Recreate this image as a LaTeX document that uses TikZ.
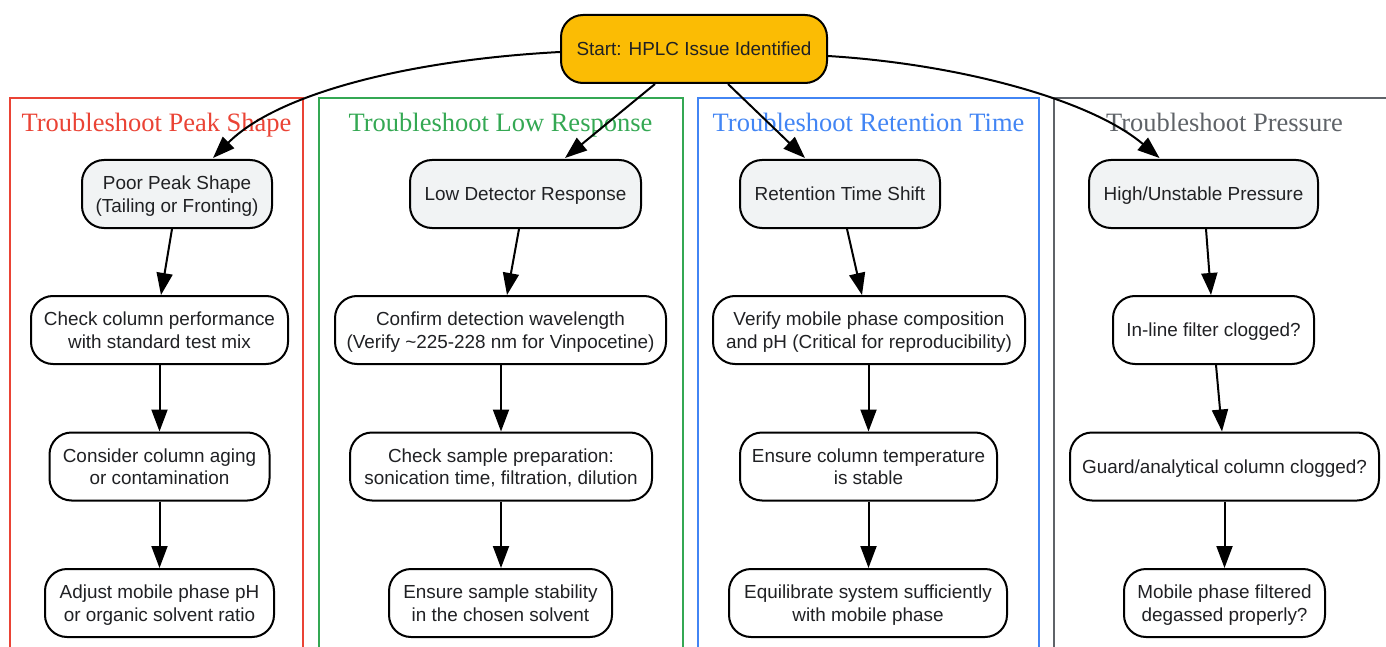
\documentclass[tikz,border=0pt]{standalone}
\usepackage{fontspec}
\setmainfont{Liberation Sans}
\newfontfamily\titlefont{Liberation Serif}
\usetikzlibrary{arrows.meta}
\definecolor{ink}{HTML}{202124}
\definecolor{boxgray}{HTML}{F1F3F4}
\definecolor{startfill}{HTML}{FBBC04}
\definecolor{cred}{HTML}{EA4335}
\definecolor{cgreen}{HTML}{34A853}
\definecolor{cblue}{HTML}{4285F4}
\definecolor{cgray}{HTML}{5F6368}
\tikzset{
  x=1pt,y=-1pt,
  flowbox/.style={draw=black,line width=2pt,rounded corners=22pt,align=center,text=ink,inner sep=0pt,
    font=\fontsize{18.9}{22.4}\selectfont,minimum height=68pt,fill=white,text height=36pt,text depth=0pt},
  oneline/.style={text height=13.5pt,text depth=0pt},
  headbox/.style={flowbox,fill=boxgray},
  startbox/.style={flowbox,fill=startfill},
  groupframe/.style={line width=2pt,fill=none},
  grouptitle/.style={inner sep=0pt,anchor=base,font=\titlefont\fontsize{26.5}{30}\selectfont},
  flow/.style={draw=black,line width=2pt,-{Triangle[length=22pt,width=16pt]},shorten >=0pt}
}
\begin{document}
\begin{tikzpicture}
\useasboundingbox (0,0) rectangle (1386,647);
\clip (0,0) rectangle (1386,647);
% group frames
\coordinate (fr1a) at (10,660); \coordinate (fr1b) at (303,98);
\coordinate (fr2a) at (319,660); \coordinate (fr2b) at (683,98);
\coordinate (fr3a) at (698,660); \coordinate (fr3b) at (1039,98);
\coordinate (fr4a) at (1054,660); \coordinate (fr4b) at (1400,98);
\draw[groupframe,cred] (fr1a) rectangle (fr1b);
\draw[groupframe,cgreen] (fr2a) rectangle (fr2b);
\draw[groupframe,cblue] (fr3a) rectangle (fr3b);
\draw[groupframe,cgray] (fr4a) rectangle (fr4b);
\node[grouptitle,text=cred] (t1) at (156.5,132) {Troubleshoot Peak Shape};
\node[grouptitle,text=cgreen] (t2) at (500.5,132) {Troubleshoot Low Response};
\node[grouptitle,text=cblue] (t3) at (868.5,132) {Troubleshoot Retention Time};
\node[grouptitle,text=cgray] (t4) at (1224.5,132) {Troubleshoot Pressure};
% nodes
\node[startbox,oneline,minimum width=266pt] (start) at (694,49) {Start: HPLC Issue Identified};
\node[headbox,minimum width=190pt] (a1) at (177,194) {Poor Peak Shape\\(Tailing or Fronting)};
\node[flowbox,minimum width=257pt] (a2) at (159.5,330) {Check column performance\\with standard test mix};
\node[flowbox,minimum width=220pt] (a3) at (159.5,466.5) {Consider column aging\\or contamination};
\node[flowbox,minimum width=229pt] (a4) at (159.5,603) {Adjust mobile phase pH\\or organic solvent ratio};
\node[headbox,oneline,minimum width=231pt] (b1) at (525.5,194) {Low Detector Response};
\node[flowbox,minimum width=331pt] (b2) at (500.5,330) {Confirm detection wavelength\\(Verify \textasciitilde 225-228 nm for Vinpocetine)};
\node[flowbox,minimum width=302pt] (b3) at (501,466.5) {Check sample preparation:\\sonication time, filtration, dilution};
\node[flowbox,minimum width=223pt] (b4) at (500.5,603) {Ensure sample stability\\in the chosen solvent};
\node[headbox,oneline,minimum width=200pt] (c1) at (840,194) {Retention Time Shift};
\node[flowbox,minimum width=312pt] (c2) at (869,330) {Verify mobile phase composition\\and pH (Critical for reproducibility)};
\node[flowbox,minimum width=257pt] (c3) at (868.5,466.5) {Ensure column temperature\\is stable};
\node[flowbox,minimum width=278pt] (c4) at (868,603) {Equilibrate system sufficiently\\with mobile phase};
\node[headbox,oneline,minimum width=229pt] (d1) at (1203.5,194) {High/Unstable Pressure};
\node[flowbox,oneline,minimum width=201pt] (d2) at (1213.5,330) {In-line filter clogged?};
\node[flowbox,oneline,minimum width=309pt] (d3) at (1224.5,466.5) {Guard/analytical column clogged?};
\node[flowbox,minimum width=201pt] (d4) at (1224.5,603) {Mobile phase filtered\\degassed properly?};
% connectors
\draw[flow] ([yshift=-3pt]start.west) .. controls +(-150,8) and +(65,-65) .. ([xshift=36pt,yshift=1pt]a1.north);
\draw[flow] ([xshift=-39pt]start.south) -- ([xshift=39.5pt,yshift=1pt]b1.north);
\draw[flow] ([xshift=34pt]start.south) -- ([xshift=-35pt,yshift=1pt]c1.north);
\draw[flow] ([yshift=-7pt]start.east) .. controls +(130,8) and +(-70,-59) .. ([xshift=-44pt,yshift=1pt]d1.north);
\draw[flow] ([xshift=-5pt]a1.south) -- ([xshift=1.5pt]a2.north);
\draw[flow] (a2.south) -- (a3.north);
\draw[flow] (a3.south) -- (a4.north);
\draw[flow] ([xshift=-6.5pt]b1.south) -- ([xshift=6.5pt]b2.north);
\draw[flow] ([xshift=.5pt]b2.south) -- (b3.north);
\draw[flow] (b3.south) -- ([xshift=.5pt]b4.north);
\draw[flow] ([xshift=7pt]c1.south) -- ([xshift=-7pt]c2.north);
\draw[flow] ([xshift=-.5pt]c2.south) -- (c3.north);
\draw[flow] (c3.south) -- ([xshift=.5pt]c4.north);
\draw[flow] ([xshift=2.5pt]d1.south) -- ([xshift=-2.5pt]d2.north);
\draw[flow] ([xshift=2.5pt]d2.south) -- ([xshift=-2.5pt]d3.north);
\draw[flow] (d3.south) -- (d4.north);
\end{tikzpicture}
\end{document}
